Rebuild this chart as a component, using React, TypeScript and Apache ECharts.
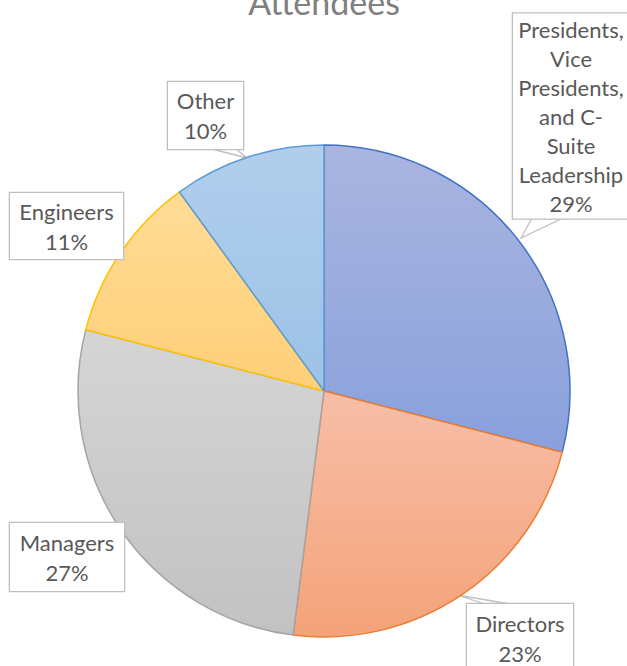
import React, { useEffect, useRef } from "react";
import * as echarts from "echarts";

const categories = [
  "Presidents, Vice Presidents, and C-Suite Leadership",
  "Directors",
  "Managers",
  "Engineers",
  "Other",
];
const labelNames = [
  "Presidents,\nVice\nPresidents,\nand C-\nSuite\nLeadership",
  "Directors",
  "Managers",
  "Engineers",
  "Other",
];
const values = [29, 23, 27, 11, 10];

const topColors = ["#aab5df", "#f7bea8", "#d5d5d5", "#ffdc96", "#b1ceec"];
const bottomColors = ["#89a0dc", "#f4a379", "#c2c2c2", "#ffcf78", "#9cc2e6"];
const borderColors = ["#4472c4", "#ed7d31", "#a5a5a5", "#ffc000", "#5b9bd5"];

// label box centres, widths, vertical paddings, line heights
const labelPos = [
  [571, 116],
  [520, 638],
  [67, 557],
  [66.5, 226],
  [205.5, 115.5],
];
const labelWidths = [114, 104, 112, 111, 73];
const labelPadV = [1, 4, 4, 3, 3.5];
const labelLineH = [29, 30, 30, 30, 30];
const showPointer = [true, true, false, false, true];
const pointerPts: number[][][] = [
  [[532, 218], [521, 238], [563, 218]],
  [[485, 604], [457, 595], [510, 604]],
  [],
  [],
  [[212, 149], [247, 158], [236, 149]],
];

export default function App() {
  const ref = useRef<HTMLDivElement>(null);
  useEffect(() => {
    document.body.style.margin = "0";
    const chart = echarts.init(ref.current!, null, { renderer: "svg" });
    chart.setOption({
      animation: false,
      backgroundColor: "#ffffff",
      title: {
        text: "Attendees",
        left: 324,
        textAlign: "center",
        top: -16,
        padding: 0,
        textStyle: {
          fontFamily: "Lato",
          fontSize: 34,
          fontWeight: "normal",
          color: "#808080",
        },
      },
      series: [
        {
          type: "pie",
          center: [324, 391],
          radius: 246,
          startAngle: 90,
          clockwise: true,
          avoidLabelOverlap: false,
          data: categories.map((name, i) => ({
            name,
            value: values[i],
            itemStyle: {
              color: new echarts.graphic.LinearGradient(0, 0, 0, 1, [
                { offset: 0, color: topColors[i] },
                { offset: 1, color: bottomColors[i] },
              ]),
              borderColor: borderColors[i],
              borderWidth: 1.5,
            },
            label: {
              width: labelWidths[i],
              padding: [labelPadV[i], 1],
              lineHeight: labelLineH[i],
            },
            labelLine: { show: showPointer[i] },
          })),
          label: {
            show: true,
            position: "outside",
            formatter: (p: any) =>
              labelNames[p.dataIndex] + "\n" + Math.round(p.percent) + "%",
            fontFamily: "Lato",
            fontSize: 22,
            color: "#595959",
            align: "center",
            backgroundColor: "#ffffff",
            borderColor: "#bfbfbf",
            borderWidth: 1.3,
          },
          labelLine: {
            show: true,
            lineStyle: { color: "#bfbfbf", width: 1.3 },
          },
          labelLayout: (params: any) => {
            const i = params.dataIndex;
            const res: any = {
              x: labelPos[i][0],
              y: labelPos[i][1],
              align: "center",
              verticalAlign: "middle",
            };
            if (showPointer[i]) res.labelLinePoints = pointerPts[i];
            return res;
          },
          emphasis: { disabled: true },
        },
      ],
    });
    return () => chart.dispose();
  }, []);
  return <div ref={ref} style={{ width: 627, height: 666 }} />;
}
